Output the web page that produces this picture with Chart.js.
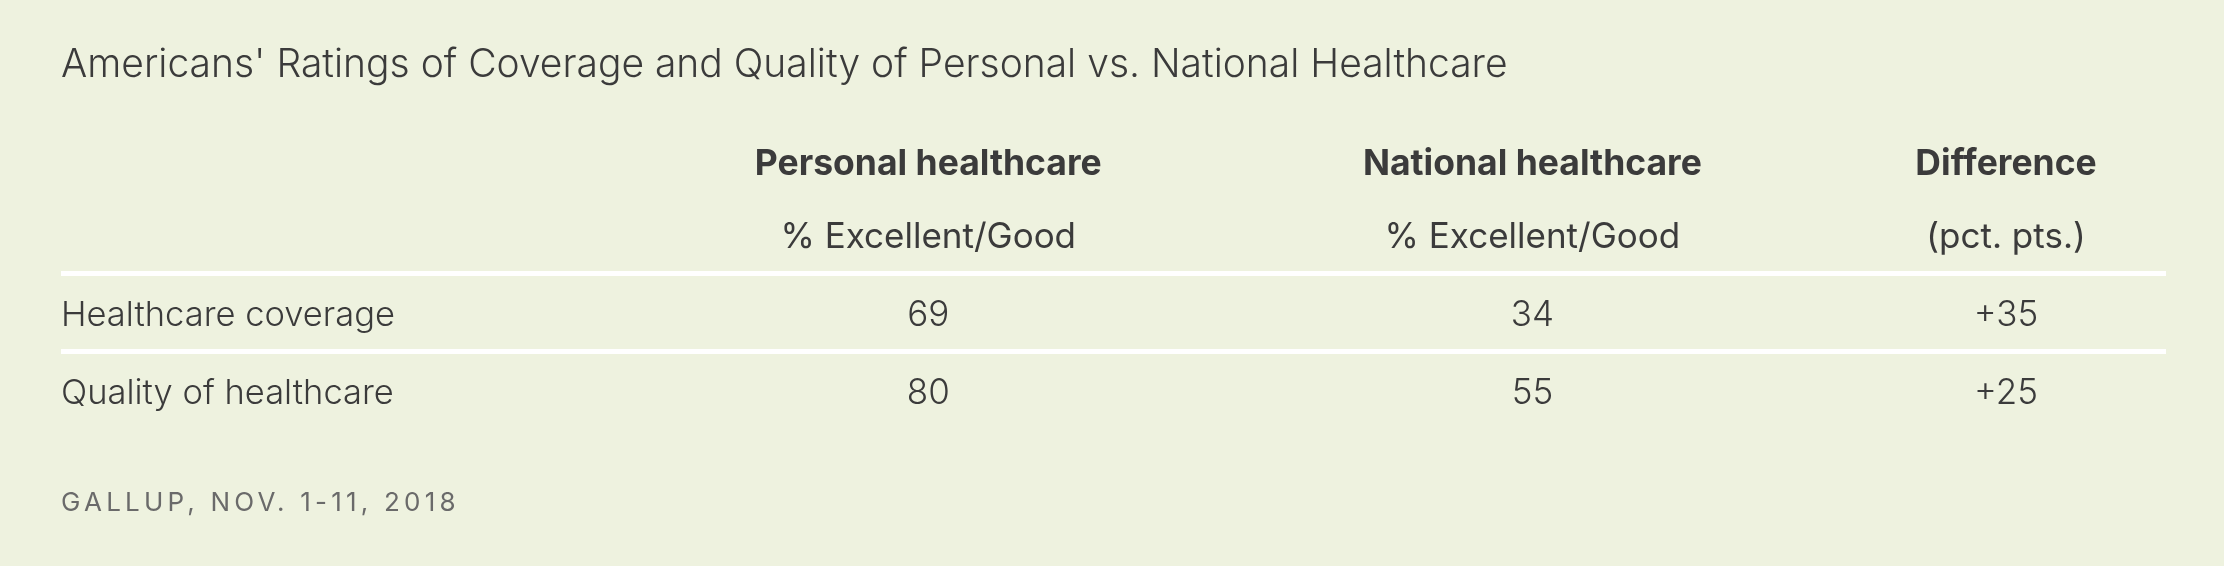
<!DOCTYPE html>
<html>
<head>
<meta charset="utf-8">
<script src="https://cdn.jsdelivr.net/npm/chart.js@4.4.1/dist/chart.umd.min.js"></script>
<style>
  html, body { margin: 0; padding: 0; background: #eef2df; }
  canvas { display: block; }
</style>
</head>
<body>
<canvas id="ratingsTable" width="2224" height="566"></canvas>
<script>
// table contents
const rowLabels = ['Healthcare coverage', 'Quality of healthcare'];
const columnHeads = ['Personal healthcare', 'National healthcare', 'Difference'];
const columnSubheads = ['% Excellent/Good', '% Excellent/Good', '(pct. pts.)'];
const personal = [69, 80];
const national = [34, 55];
const difference = [35, 25];
const source = 'GALLUP, NOV. 1-11, 2018';
const titleText = "Americans' Ratings of Coverage and Quality of Personal vs. National Healthcare";

// layout: column centres as a fraction of the table width
const colCenters = [0.412, 0.699, 0.924];
const FONT = 'Inter, "Noto Sans", sans-serif';
const ink = '#3b3b3b';

const columns = [personal, national, difference];
const fmt = [v => String(v), v => String(v), v => (v > 0 ? '+' : '') + v];

// draws header, row labels, cell values and source line off the scales
const cellText = {
  id: 'cellText',
  afterDatasetsDraw(chart) {
    const { ctx, chartArea, scales } = chart;
    ctx.save();
    ctx.fillStyle = ink;
    ctx.textBaseline = 'alphabetic';

    ctx.font = `300 34.5px ${FONT}`;
    ctx.textAlign = 'left';
    rowLabels.forEach((r, i) => {
      ctx.fillText(r, chartArea.left, scales.y.getPixelForValue(i) + 13);
    });

    ctx.textAlign = 'center';
    chart.data.datasets.forEach((ds, d) => {
      const x = scales.x.getPixelForValue(colCenters[d]);
      ctx.font = `650 35.5px ${FONT}`;
      ctx.fillText(ds.label, x, chartArea.top - 99);
      ctx.font = `400 35px ${FONT}`;
      ctx.fillText(columnSubheads[d], x, chartArea.top - 26);

      ctx.font = `300 35px ${FONT}`;
      chart.getDatasetMeta(d).data.forEach((pt, i) => {
        ctx.fillText(fmt[d](columns[d][i]), pt.x, pt.y + 13);
      });
    });

    ctx.font = `400 26px ${FONT}`;
    ctx.fillStyle = '#6a6a6a';
    ctx.letterSpacing = '4.2px';
    ctx.textAlign = 'left';
    ctx.fillText(source, chartArea.left, chartArea.bottom + 81);
    ctx.restore();
  }
};

new Chart(document.getElementById('ratingsTable'), {
  type: 'scatter',
  data: {
    datasets: columns.map((vals, c) => ({
      label: columnHeads[c],
      data: rowLabels.map((r, i) => ({ x: colCenters[c], y: r })),
      pointRadius: 0,
      pointHoverRadius: 0
    }))
  },
  options: {
    responsive: false,
    devicePixelRatio: 1,
    animation: false,
    events: [],
    layout: { padding: { left: 61, right: 58, top: 0, bottom: 136 } },
    plugins: {
      legend: { display: false },
      tooltip: { enabled: false },
      title: {
        display: true,
        text: titleText,
        align: 'start',
        color: ink,
        font: { family: FONT, size: 39, weight: 300, lineHeight: 1.2 },
        padding: { top: 42, bottom: 185 }
      }
    },
    scales: {
      x: { type: 'linear', min: 0, max: 1, display: false },
      y: {
        type: 'category',
        labels: rowLabels,
        offset: true,
        ticks: { display: false },
        border: { display: false },
        grid: {
          offset: true,
          drawTicks: false,
          lineWidth: 5,
          color: c => (c.index < 2 ? '#ffffff' : 'rgba(0,0,0,0)')
        }
      }
    }
  },
  plugins: [cellText]
});
</script>
</body>
</html>
